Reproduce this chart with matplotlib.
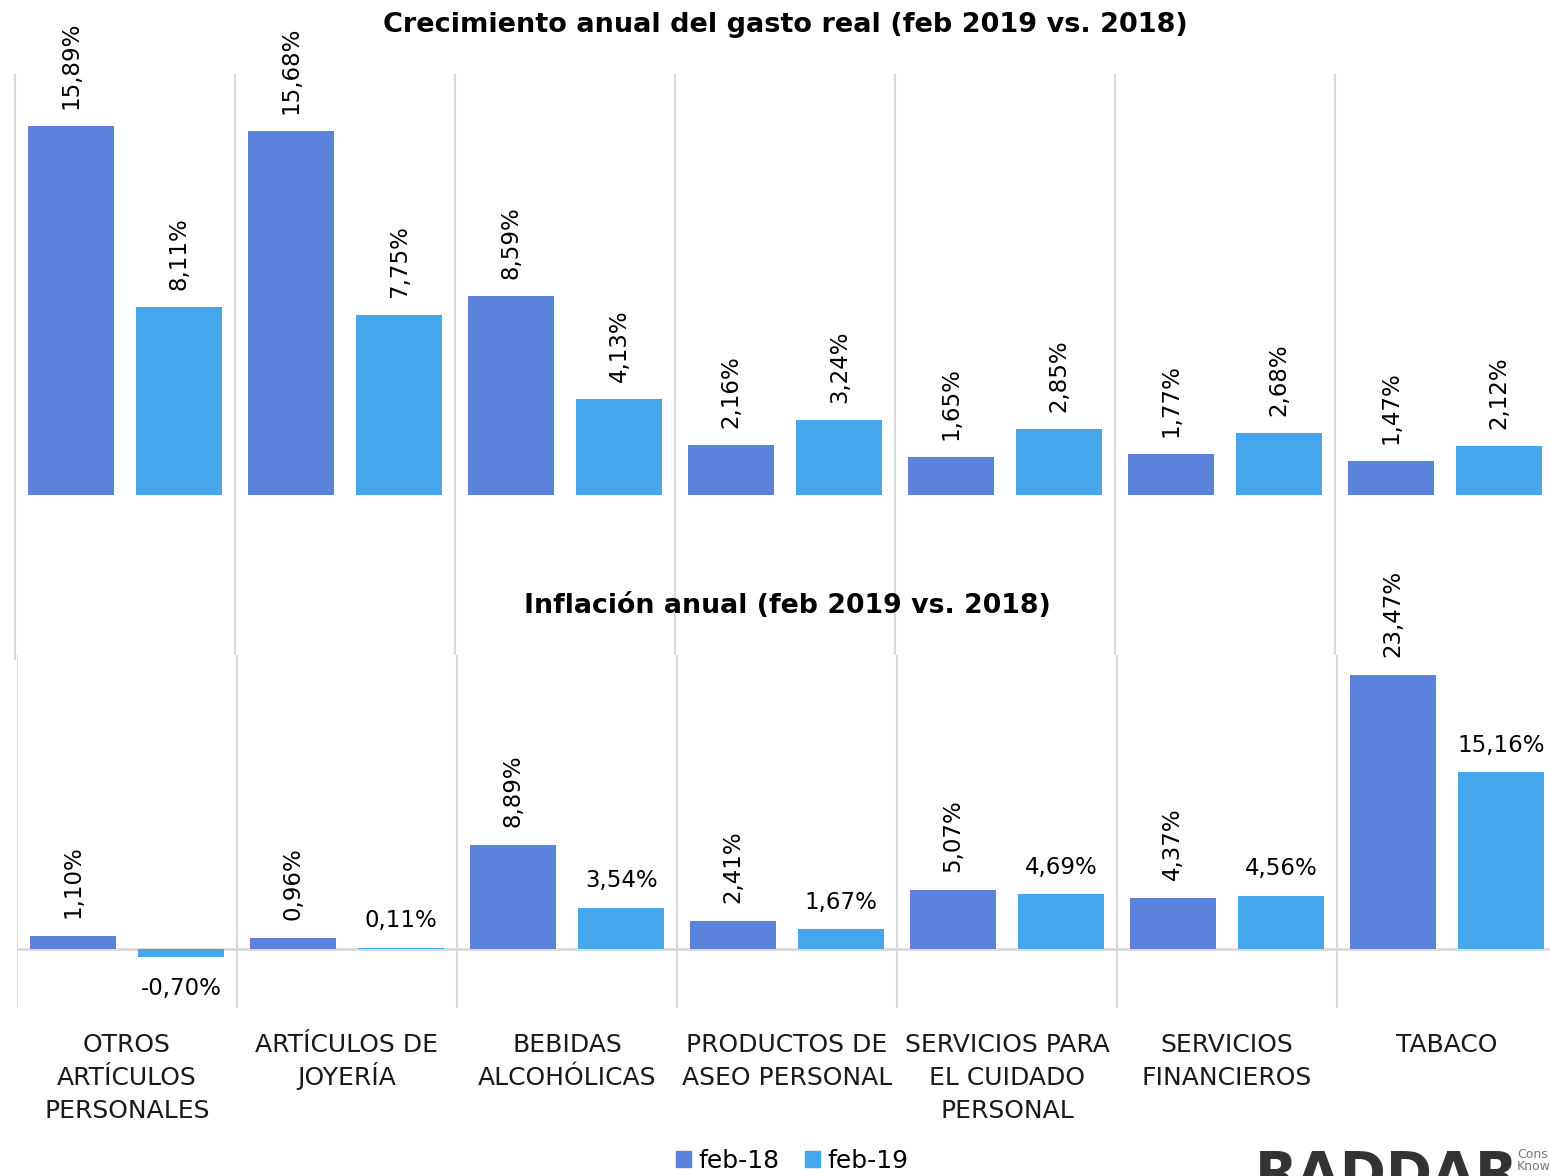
import matplotlib.pyplot as plt
from matplotlib.patches import Patch
import numpy as np

plt.rcParams['font.family'] = ['DejaVu Sans']

# data
categories = ["OTROS\nARTÍCULOS\nPERSONALES", "ARTÍCULOS DE\nJOYERÍA", "BEBIDAS\nALCOHÓLICAS",
              "PRODUCTOS DE\nASEO PERSONAL", "SERVICIOS PARA\nEL CUIDADO\nPERSONAL",
              "SERVICIOS\nFINANCIEROS", "TABACO"]
series = ["feb-18", "feb-19"]
gasto_feb18 = [15.89, 15.68, 8.59, 2.16, 1.65, 1.77, 1.47]
gasto_feb19 = [8.11, 7.75, 4.13, 3.24, 2.85, 2.68, 2.12]
infl_feb18 = [1.10, 0.96, 8.89, 2.41, 5.07, 4.37, 23.47]
infl_feb19 = [-0.70, 0.11, 3.54, 1.67, 4.69, 4.56, 15.16]

c18 = '#5B83DB'
c19 = '#45A6EB'
grid_c = '#D9D9D9'
W, H = 1550, 1176


def fmt(v):
    return f"{v:.2f}%".replace('.', ',')


fig = plt.figure(figsize=(W / 100, H / 100), dpi=100)
x = np.arange(len(categories))
bw = 0.39
off = 0.247
lab_fs = 16.5

# ---- top chart: gasto real ----
ax1 = fig.add_axes([15 / W, 1 - 495 / H, 1540 / W, 420 / H])
ax1.bar(x - off, gasto_feb18, bw, color=c18)
ax1.bar(x + off, gasto_feb19, bw, color=c19)
ax1.set_xlim(-0.5, len(categories) - 0.5)
ax1.set_ylim(0, 18.09)
ax1.axis('off')
trans = ax1.get_xaxis_transform()
for b in np.arange(len(categories) + 1) - 0.5:
    ax1.plot([b, b], [-0.39, 1.0], color=grid_c, lw=1.5, transform=trans, clip_on=False, zorder=0)
for xs, vals in ((x - off, gasto_feb18), (x + off, gasto_feb19)):
    for xi, v in zip(xs, vals):
        ax1.annotate(fmt(v), (xi, v), xytext=(0, 12), textcoords='offset points',
                     rotation=90, ha='center', va='bottom', fontsize=lab_fs)

fig.text(785 / W, 1 - 25 / H, "Crecimiento anual del gasto real (feb 2019 vs. 2018)",
         ha='center', va='center', fontsize=19.5, fontweight='bold')

# ---- bottom chart: inflacion ----
ax2 = fig.add_axes([17 / W, 1 - 1008 / H, 1540 / W, 353 / H])
ax2.bar(x - off, infl_feb18, bw, color=c18, zorder=2)
ax2.bar(x + off, infl_feb19, bw, color=c19, zorder=2)
ax2.set_xlim(-0.5, len(categories) - 0.5)
ax2.set_ylim(-5.06, 25.19)
for s in ax2.spines.values():
    s.set_visible(False)
ax2.set_yticks([])
ax2.axhline(0, color=grid_c, lw=2, zorder=1)
for b in np.arange(len(categories) + 1) - 0.5:
    ax2.axvline(b, color=grid_c, lw=1.5, zorder=0)
ax2.set_xticks(x)
ax2.set_xticklabels([])
ax2.tick_params(axis='x', length=0)

# category labels, one line at a time so accents don't shift the spacing
for xi, cat in zip(x, categories):
    for i, line in enumerate(cat.split('\n')):
        ax2.annotate(line, (xi, 0), xycoords=('data', 'axes fraction'),
                     xytext=(0, -31.7 - i * 23.6), textcoords='offset points',
                     ha='center', va='baseline', fontsize=18, color='#1a1a1a')

for xi, v in zip(x - off, infl_feb18):
    ax2.annotate(fmt(v), (xi, v), xytext=(0, 13), textcoords='offset points',
                 rotation=90, ha='center', va='bottom', fontsize=lab_fs)
for xi, v in zip(x + off, infl_feb19):
    if v < 0:
        ax2.annotate(fmt(v), (xi, v), xytext=(0, -14), textcoords='offset points',
                     ha='center', va='top', fontsize=lab_fs)
    else:
        ax2.annotate(fmt(v), (xi, v), xytext=(0, 11), textcoords='offset points',
                     ha='center', va='bottom', fontsize=lab_fs)

fig.text(787 / W, 1 - 606 / H, "Inflación anual (feb 2019 vs. 2018)",
         ha='center', va='center', fontsize=19.3, fontweight='bold')

# legend
handles = [Patch(color=c18), Patch(color=c19)]
fig.legend(handles, series, loc='center', bbox_to_anchor=(792 / W, 1 - 1161 / H), ncol=2,
           frameon=False, fontsize=18, handlelength=0.6, handleheight=0.6,
           handletextpad=0.3, columnspacing=1.0, borderpad=0.1)

# logo, cut off at the bottom edge like in the source
fig.text(1255 / W, 1 - 1149 / H, "RADDAR", ha='left', va='top', fontsize=40,
         fontweight='bold', color='#333333')
fig.text(1517 / W, 1 - 1160 / H, "Cons\nKnow", ha='left', va='center', fontsize=9,
         color='#777777', linespacing=0.9)

fig.savefig('out.png', dpi=100)
